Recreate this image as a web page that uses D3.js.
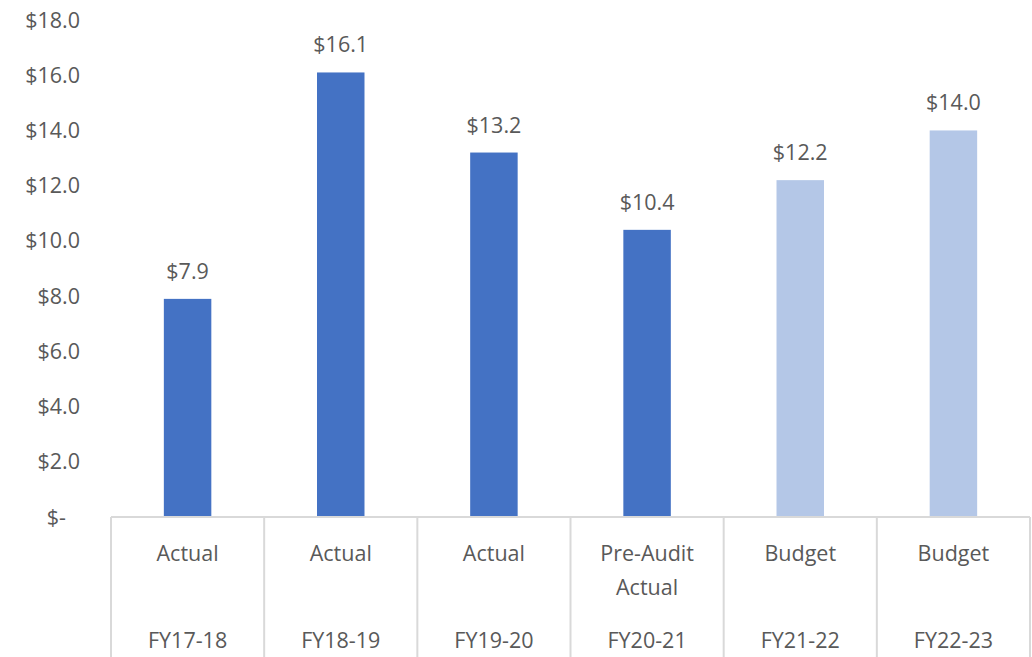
<!DOCTYPE html>
<html>
<head>
<meta charset="utf-8">
<script src="https://cdn.jsdelivr.net/npm/d3@7"></script>
<style>
  body { margin: 0; background: #fff; }
  text { font-family: "Open Sans", "Liberation Sans", sans-serif; fill: #595959; }
</style>
</head>
<body>
<svg id="chart"></svg>
<script>
// data
const years = ["FY17-18", "FY18-19", "FY19-20", "FY20-21", "FY21-22", "FY22-23"];
const kinds = ["Actual", "Actual", "Actual", "Pre-Audit\nActual", "Budget", "Budget"];
const values = [7.9, 16.1, 13.2, 10.4, 12.2, 14.0];
const yTicks = [0, 2, 4, 6, 8, 10, 12, 14, 16, 18];

const width = 1032, height = 657;
const margin = { left: 111, right: 2, top: 20, bottom: 140 };

const svg = d3.select("#chart")
  .attr("width", width)
  .attr("height", height);

const x = d3.scaleBand()
  .domain(years)
  .range([margin.left, width - margin.right]);

const y = d3.scaleLinear()
  .domain([0, 18])
  .range([height - margin.bottom, margin.top]);

const fmt = v => v === 0 ? "$-" : "$" + d3.format(".1f")(v);

// y axis labels (no line, no gridlines)
svg.append("g")
  .selectAll("text")
  .data(yTicks)
  .join("text")
    .attr("x", d => d === 0 ? 66 : 80)
    .attr("y", d => y(d))
    .attr("dy", "0.35em")
    .attr("text-anchor", "end")
    .attr("font-size", 21.5)
    .text(fmt);

// bars
const barW = x.bandwidth() * 0.31;
svg.append("g")
  .selectAll("rect")
  .data(values)
  .join("rect")
    .attr("x", (d, i) => x(years[i]) + (x.bandwidth() - barW) / 2)
    .attr("y", d => y(d))
    .attr("width", barW)
    .attr("height", d => y(0) - y(d))
    .attr("fill", (d, i) => kinds[i] === "Budget" ? "#b4c7e7" : "#4472c4");

// value labels
svg.append("g")
  .selectAll("text")
  .data(values)
  .join("text")
    .attr("x", (d, i) => x(years[i]) + x.bandwidth() / 2)
    .attr("y", d => y(d) - 20)
    .attr("text-anchor", "middle")
    .attr("font-size", 21.5)
    .text(fmt);

// category axis: baseline + dividers
const axis = svg.append("g")
  .attr("stroke", "#d9d9d9")
  .attr("stroke-width", 2);

axis.append("line")
  .attr("x1", x.range()[0])
  .attr("x2", x.range()[1])
  .attr("y1", y(0))
  .attr("y2", y(0));

axis.selectAll("line.div")
  .data(years.concat([null]))
  .join("line")
    .attr("class", "div")
    .attr("x1", (d, i) => i < years.length ? x(d) : x.range()[1])
    .attr("x2", (d, i) => i < years.length ? x(d) : x.range()[1])
    .attr("y1", y(0))
    .attr("y2", height);

// inner labels (kind)
svg.append("g")
  .selectAll("text")
  .data(kinds)
  .join("text")
    .attr("text-anchor", "middle")
    .attr("font-size", 21.5)
    .attr("x", (d, i) => x(years[i]) + x.bandwidth() / 2)
    .attr("y", 561)
  .selectAll("tspan")
  .data(d => d.split("\n"))
  .join("tspan")
    .attr("x", function() { return this.parentNode.getAttribute("x"); })
    .attr("dy", (d, i) => i === 0 ? 0 : 34)
    .text(d => d);

// outer labels (year)
svg.append("g")
  .selectAll("text")
  .data(years)
  .join("text")
    .attr("x", d => x(d) + x.bandwidth() / 2)
    .attr("y", 648)
    .attr("text-anchor", "middle")
    .attr("font-size", 21.5)
    .text(d => d);
</script>
</body>
</html>
